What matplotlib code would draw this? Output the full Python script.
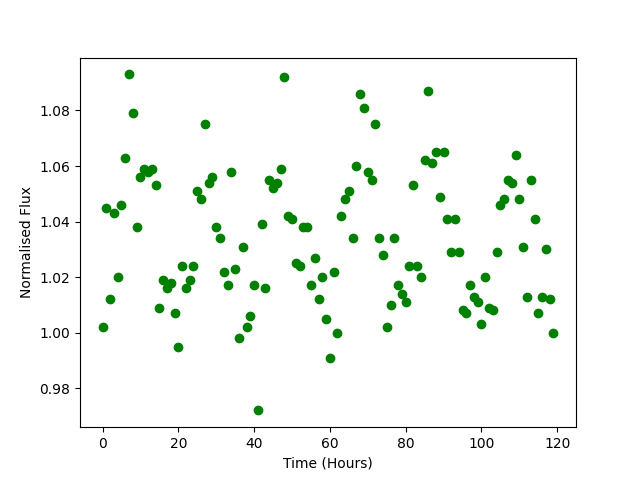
import numpy as np
import matplotlib
matplotlib.use("Agg")
import matplotlib.pyplot as plt


# hourly normalised flux readings
time_hours = np.arange(120)

flux = [
    1.002, 1.045, 1.012, 1.043, 1.020, 1.046, 1.063, 1.093, 1.079, 1.038,
    1.056, 1.059, 1.058, 1.059, 1.053, 1.009, 1.019, 1.016, 1.018, 1.007,
    0.995, 1.024, 1.016, 1.019, 1.024, 1.051, 1.048, 1.075, 1.054, 1.056,
    1.038, 1.034, 1.022, 1.017, 1.058, 1.023, 0.998, 1.031, 1.002, 1.006,
    1.017, 0.972, 1.039, 1.016, 1.055, 1.052, 1.054, 1.059, 1.092, 1.042,
    1.041, 1.025, 1.024, 1.038, 1.038, 1.017, 1.027, 1.012, 1.020, 1.005,
    0.991, 1.022, 1.000, 1.042, 1.048, 1.051, 1.034, 1.060, 1.086, 1.081,
    1.058, 1.055, 1.075, 1.034, 1.028, 1.002, 1.010, 1.034, 1.017, 1.014,
    1.011, 1.024, 1.053, 1.024, 1.020, 1.062, 1.087, 1.061, 1.065, 1.049,
    1.065, 1.041, 1.029, 1.041, 1.029, 1.008, 1.007, 1.017, 1.013, 1.011,
    1.003, 1.020, 1.009, 1.008, 1.029, 1.046, 1.048, 1.055, 1.054, 1.064,
    1.048, 1.031, 1.013, 1.055, 1.041, 1.007, 1.013, 1.030, 1.012, 1.000,
]

plt.figure(figsize=(6.4, 4.8), dpi=100)

plt.plot(time_hours, flux, "o", color="green")

plt.xlabel("Time (Hours)")
plt.ylabel("Normalised Flux")

plt.savefig("out.png")
